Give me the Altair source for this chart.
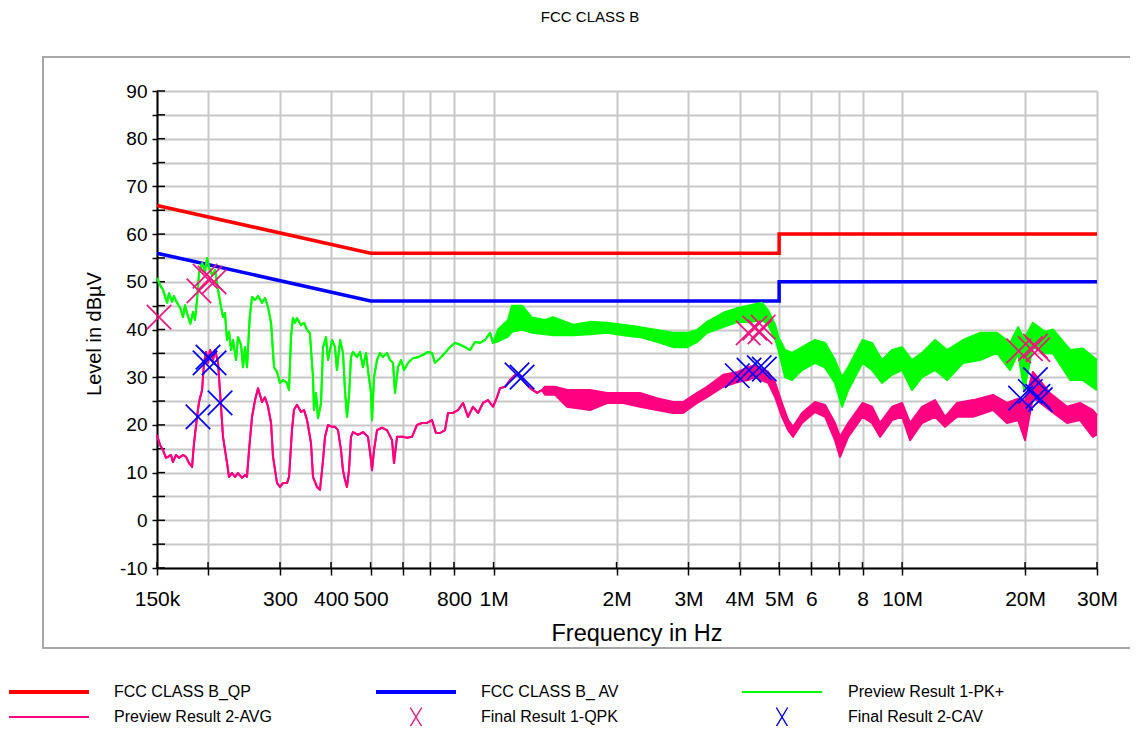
import altair as alt
import pandas as pd

# ---------------- text ----------------
CHART_TITLE = "FCC CLASS B"
X_TITLE = "Frequency in Hz"
Y_TITLE = "Level in dBµV"
SERIES = ["FCC CLASS B_QP", "FCC CLASS B_ AV", "Preview Result 1-PK+",
          "Preview Result 2-AVG", "Final Result 1-QPK", "Final Result 2-CAV"]
COLORS = ["#FF0000", "#0000FF", "#00FF00", "#FF0080", "#F0147F", "#0000FF"]

# ---------------- axes ----------------
GRID_FREQS = [0.15, 0.2, 0.3, 0.4, 0.5, 0.6, 0.7, 0.8, 1, 2, 3, 4, 5, 6, 7, 8, 10, 20, 30]
LABEL_FREQS = [0.15, 0.3, 0.4, 0.5, 0.8, 1, 2, 3, 4, 5, 6, 8, 10, 20, 30]
LABEL_TEXTS = ["150k", "300", "400", "500", "800", "1M", "2M", "3M", "4M", "5M", "6", "8", "10M", "20M", "30M"]
Y_TICKS = list(range(-10, 95, 5))

# ---------------- limit lines (MHz, dBµV) ----------------
QP_F = [0.15, 0.5, 5.0, 5.0, 30.0]
QP_V = [66, 56, 56, 60, 60]
AV_F = [0.15, 0.5, 5.0, 5.0, 30.0]
AV_V = [56, 46, 46, 50, 50]

# ---------------- Preview Result 1-PK+ ----------------
PK_F_LOW = [0.150, 0.1526, 0.1552, 0.1587, 0.1605, 0.1632, 0.1650, 0.1679, 0.171, 0.1737, 0.1757, 0.1776,
            0.181, 0.1838, 0.1858, 0.1880, 0.1901, 0.1934, 0.1967, 0.1989, 0.2012, 0.2046, 0.2081, 0.2116,
            0.2152, 0.2176, 0.2200, 0.2226, 0.2251, 0.2277, 0.2302, 0.2342, 0.2368, 0.2409, 0.2436, 0.2464,
            0.2491, 0.253, 0.2563, 0.2607, 0.2651, 0.2711, 0.2757, 0.2805, 0.2853, 0.2901, 0.2951, 0.300,
            0.3052, 0.3121, 0.3157, 0.3192, 0.3228, 0.3265, 0.3302, 0.3378, 0.3436, 0.3495, 0.355, 0.3614,
            0.3634, 0.3675, 0.3717, 0.3781, 0.3824, 0.3889, 0.3933, 0.4023, 0.4091, 0.4137, 0.421, 0.4279,
            0.4328, 0.4377, 0.4427, 0.4477, 0.4527, 0.4630, 0.471, 0.4789, 0.4872, 0.4927, 0.5011, 0.5040,
            0.5097, 0.5184, 0.527, 0.5361, 0.5484, 0.558, 0.5673, 0.5737, 0.5835, 0.5935, 0.6036, 0.6174,
            0.6350, 0.6531, 0.6718, 0.6910, 0.7068, 0.7188, 0.740, 0.7605, 0.7823, 0.8046, 0.828, 0.8513,
            0.876, 0.9006, 0.926, 0.9529, 0.9802, 0.9969]
PK_V_LOW = [50.8, 49.3, 48.3, 45.6, 47.6, 45.8, 47.0, 45.6, 44.5, 42.6, 45.1, 43.5,
            41.2, 43.7, 42.0, 46.2, 51.8, 53.9, 52.1, 55.0, 52.9, 51.4, 52.5, 48.3,
            44.7, 42.6, 43.5, 37.8, 39.5, 35.7, 37.8, 33.6, 38.4, 36.8, 32.1, 36.3,
            32.1, 42.6, 46.8, 46.2, 47.0, 45.6, 46.6, 44.7, 41.4, 32.1, 31.1, 28.8,
            29.4, 28.8, 27.3, 38.4, 42.4, 41.4, 42.4, 40.9, 41.4, 39.9, 39.3, 30.0,
            23.1, 26.7, 21.4, 24.6, 36.3, 38.4, 33.6, 37.8, 36.3, 31.5, 37.8, 35.1,
            27.3, 21.7, 26.0, 34.2, 35.3, 34.2, 35.3, 32.1, 35.1, 31.5, 26.7, 21.0,
            30.0, 33.6, 35.1, 34.2, 35.1, 33.6, 33.0, 26.7, 32.1, 33.6, 31.5, 33.0,
            34.0, 34.2, 34.7, 35.3, 35.1, 33.0, 34.0, 35.1, 36.3, 37.2, 36.8, 36.3,
            35.7, 37.4, 37.2, 37.8, 39.3, 37.2]
PK_F_BAND = [1.025, 1.085, 1.109, 1.174, 1.242, 1.336, 1.398, 1.565, 1.722, 1.896, 2.075, 2.283,
             2.51, 2.75, 2.98, 3.15, 3.33, 3.65, 3.96, 4.20, 4.54, 4.70, 4.89, 4.98,
             5.17, 5.38, 5.69, 6.12, 6.48, 6.85, 7.13, 7.38, 8.0, 8.44, 8.93, 9.45,
             10.0, 10.57, 11.19, 12.04, 12.89, 14.1, 15.51, 17.07, 18.38, 19.23, 19.9, 20.9,
             22.4, 23.4, 25.8, 27.7, 30.0]
PK_HI = [40.0, 42.0, 45.0, 45.0, 42.5, 42.0, 42.6, 41.0, 41.6, 41.4, 41.0, 40.5,
         39.9, 39.3, 39.3, 39.9, 41.6, 43.5, 44.5, 45.0, 45.6, 44.0, 41.0, 38.4,
         35.7, 35.1, 36.3, 37.8, 37.2, 33.6, 30.0, 32.1, 37.8, 37.2, 33.6, 35.7,
         36.3, 33.6, 35.1, 37.8, 35.7, 37.8, 39.3, 39.3, 37.2, 40.5, 38.0, 41.4,
         39.5, 40.0, 35.7, 36.0, 33.6]
PK_LO = [37.5, 38.5, 39.5, 40.0, 39.3, 39.0, 38.8, 38.8, 39.0, 39.3, 38.8, 38.4,
         37.4, 36.3, 36.3, 37.4, 39.3, 40.5, 41.6, 41.5, 42.0, 41.0, 38.0, 35.7,
         30.0, 29.4, 31.5, 33.0, 32.0, 28.8, 23.8, 27.3, 33.0, 31.5, 28.8, 30.5,
         31.5, 27.3, 30.0, 31.5, 29.4, 33.0, 33.6, 35.1, 31.5, 35.1, 27.3, 36.3,
         35.0, 35.0, 29.4, 29.4, 27.3]

# ---------------- Preview Result 2-AVG ----------------
AVG_F_LOW = [0.150, 0.1526, 0.1552, 0.1578, 0.1596, 0.1623, 0.1641, 0.1670, 0.1698, 0.1737, 0.1767, 0.1797,
             0.1828, 0.1848, 0.1880, 0.1901, 0.1934, 0.1955, 0.1978, 0.200, 0.2023, 0.2057, 0.2081, 0.2116,
             0.2152, 0.2176, 0.2226, 0.2251, 0.2290, 0.2329, 0.2368, 0.2423, 0.2464, 0.2491, 0.2520, 0.2563,
             0.2607, 0.2651, 0.2711, 0.2757, 0.2805, 0.2853, 0.2885, 0.2951, 0.300, 0.3052, 0.3121, 0.3157,
             0.3210, 0.3246, 0.3302, 0.3378, 0.3436, 0.3495, 0.3573, 0.3614, 0.3696, 0.376, 0.3824, 0.3867,
             0.3933, 0.4023, 0.4091, 0.4161, 0.4232, 0.4279, 0.4328, 0.4377, 0.4427, 0.4477, 0.4527, 0.4657,
             0.4789, 0.4927, 0.500, 0.5040, 0.5097, 0.5184, 0.5331, 0.5484, 0.5642, 0.5705, 0.5803, 0.600,
             0.6139, 0.6315, 0.6495, 0.6681, 0.6871, 0.7068, 0.7228, 0.740, 0.7605, 0.7735, 0.7956, 0.8185,
             0.8418, 0.8658, 0.8906, 0.9160, 0.9422, 0.9691, 0.9969, 1.0196, 1.0371, 1.0667, 1.097, 1.1283,
             1.161, 1.194, 1.228, 1.2774, 1.314]
AVG_V_LOW = [17.9, 15.8, 14.7, 13.1, 13.3, 13.7, 12.2, 13.7, 13.1, 13.7, 13.3, 12.0,
             11.2, 16.2, 21.7, 24.8, 27.3, 33.0, 35.3, 33.0, 35.7, 33.6, 35.7, 33.0,
             23.8, 17.5, 12.0, 9.1, 9.9, 9.1, 9.9, 8.9, 9.5, 9.1, 14.7, 21.7,
             25.2, 27.7, 24.8, 25.8, 23.8, 20.4, 13.3, 7.8, 7.0, 7.8, 7.8, 9.1,
             18.9, 23.1, 24.2, 22.7, 23.1, 21.0, 16.2, 9.1, 7.0, 6.4, 12.6, 17.5,
             20.0, 19.6, 19.6, 18.9, 14.7, 10.5, 8.5, 7.0, 10.5, 17.5, 18.5, 17.9,
             18.5, 17.5, 13.3, 10.5, 14.7, 18.9, 19.4, 18.9, 16.8, 12.0, 17.5, 17.5,
             17.3, 17.5, 20.0, 20.4, 20.4, 21.0, 18.3, 18.3, 18.9, 22.5, 22.5, 23.1,
             24.6, 21.7, 23.8, 22.5, 24.6, 25.2, 23.8, 25.8, 27.7, 28.0, 29.4, 30.5,
             30.5, 28.8, 27.7, 26.7, 27.3]
AVG_F_BAND = [1.336, 1.414, 1.513, 1.722, 1.896, 2.075, 2.283, 2.51, 2.75, 2.91, 3.15, 3.33,
              3.65, 3.96, 4.20, 4.36, 4.70, 4.89, 5.08, 5.26, 5.41, 5.69, 6.12, 6.48,
              6.85, 7.05, 7.38, 8.0, 8.44, 8.83, 9.45, 10.0, 10.46, 11.19, 12.04, 12.74,
              13.63, 14.92, 16.7, 18.06, 19.23, 20.0, 20.9, 23.0, 25.35, 27.26, 29.3, 30.0]
AVG_HI = [28.0, 28.0, 27.3, 27.3, 26.7, 26.7, 26.7, 25.6, 24.8, 24.8, 26.7, 28.0,
          30.5, 31.1, 32.1, 32.5, 31.1, 28.8, 24.6, 21.0, 19.6, 22.5, 24.8, 24.2,
          20.4, 17.5, 20.4, 24.6, 23.8, 20.4, 23.8, 24.6, 20.4, 23.8, 25.2, 21.7,
          24.6, 25.2, 26.3, 24.6, 25.5, 25.0, 31.1, 26.7, 23.8, 24.6, 23.1, 22.0]
AVG_LO = [26.3, 26.3, 23.8, 23.1, 24.6, 24.6, 23.8, 23.1, 22.5, 22.5, 24.6, 25.8,
          28.0, 29.0, 29.4, 30.0, 28.8, 25.8, 21.7, 18.9, 17.5, 20.4, 22.7, 21.7,
          16.8, 13.3, 17.5, 21.7, 20.4, 17.5, 21.0, 21.7, 16.8, 20.4, 21.7, 19.6,
          21.7, 21.7, 23.1, 20.4, 21.0, 16.8, 25.8, 23.1, 20.4, 21.0, 17.5, 18.0]

# ---------------- Final results ----------------
QPK_F = [0.1517, 0.190, 0.1967, 0.2023, 0.2069, 4.20, 4.36, 4.49, 4.57, 19.3, 20.6, 21.2, 21.5]
QPK_V = [42.6, 48.1, 51.2, 50.8, 50.0, 39.3, 40.3, 39.5, 40.5, 35.5, 36.0, 36.5, 35.8]
CAV_F = [0.1890, 0.1967, 0.2000, 0.2069, 0.2140, 1.141, 1.174, 3.95, 4.22, 4.47, 4.60,
         19.5, 20.6, 21.2, 21.5, 21.8]
CAV_V = [21.7, 33.0, 34.2, 33.0, 24.6, 30.5, 30.0, 30.3, 31.5, 32.0, 31.7,
         25.6, 27.0, 29.5, 26.0, 25.3]

# ---------------- build ----------------
FONT = "Liberation Sans"
W, H = 940, 477
XMARK = "M-1,-1L1,1M-1,1L1,-1"
XMARK_LEG = "M-0.6,-1L0.6,1M-0.6,1L0.6,-1"

label_expr = " : ".join(f"datum.value == {f} ? '{t}'" for f, t in zip(LABEL_FREQS, LABEL_TEXTS)) + " : ''"

x_scale = alt.Scale(type="log", domain=[0.15, 30], nice=False)
y_scale = alt.Scale(domain=[-10, 90], nice=False, zero=False)

x_axis = alt.Axis(values=GRID_FREQS, labelExpr=label_expr, title=None, grid=True,
                  gridColor="#C8C8C8", gridWidth=2, domainColor="black", domainWidth=2,
                  ticks=True, tickColor="black", tickSize=7, tickWidth=1.5,
                  labelFont=FONT, labelFontSize=21, labelColor="black", labelPadding=13,
                  labelOverlap=False, labelFlush=False, labelBound=False)
y_axis = alt.Axis(values=Y_TICKS, labelExpr="datum.value % 10 == 0 ? '' + datum.value : ''",
                  title=None, grid=True, gridColor="#C8C8C8", gridWidth=2,
                  domainColor="black", domainWidth=2, ticks=True, tickColor="black",
                  tickSize=5, tickWidth=1.5, labelFont=FONT, labelFontSize=19,
                  labelColor="black", labelPadding=5, labelOverlap=False,
                  labelFlush=False, labelBound=False)

X = alt.X("f:Q", scale=x_scale, axis=x_axis)
Y = alt.Y("v:Q", scale=y_scale, axis=y_axis)


def line_df(fs, vs):
    return pd.DataFrame({"f": fs, "v": vs, "i": range(len(fs))})


def band_df(f_low, v_low, f_band, hi, lo):
    return pd.DataFrame({"f": list(f_low) + list(f_band),
                         "v": list(v_low) + list(hi),
                         "v2": list(v_low) + list(lo)})


layers = []

# inner half of ticks (axis ticks give the outer half)
layers.append(alt.Chart(pd.DataFrame({"v": Y_TICKS})).mark_rule(color="black", strokeWidth=1.5)
              .encode(y=Y, x=alt.value(0), x2=alt.value(8)))
layers.append(alt.Chart(pd.DataFrame({"f": GRID_FREQS})).mark_rule(color="black", strokeWidth=1.5)
              .encode(x=X, y=alt.value(H - 6), y2=alt.value(H)))

# limit lines
for fs, vs, col in [(QP_F, QP_V, COLORS[0]), (AV_F, AV_V, COLORS[1])]:
    layers.append(alt.Chart(line_df(fs, vs)).mark_line(color=col, strokeWidth=3.5, strokeJoin="miter")
                  .encode(x=X, y=Y, order="i:Q"))

# preview traces: narrow line at low frequency, noisy band (upper/lower envelope) above
for df, col in [(band_df(PK_F_LOW, PK_V_LOW, PK_F_BAND, PK_HI, PK_LO), COLORS[2]),
                (band_df(AVG_F_LOW, AVG_V_LOW, AVG_F_BAND, AVG_HI, AVG_LO), COLORS[3])]:
    base = alt.Chart(df)
    layers.append(base.mark_area(color=col, opacity=1).encode(x=X, y=Y, y2="v2:Q"))
    layers.append(base.mark_line(color=col, strokeWidth=2, strokeJoin="round").encode(x=X, y=Y))
    layers.append(base.mark_line(color=col, strokeWidth=2, strokeJoin="round")
                  .encode(x=X, y=alt.Y("v2:Q", scale=y_scale, axis=y_axis)))

# final result markers
for fs, vs, col in [(QPK_F, QPK_V, COLORS[4]), (CAV_F, CAV_V, COLORS[5])]:
    layers.append(alt.Chart(line_df(fs, vs)).mark_point(shape=XMARK, size=600, filled=False,
                                                        color=col, strokeWidth=1.7, opacity=1)
                  .encode(x=X, y=Y))

one = pd.DataFrame({"k": [0]})

# outer frame
layers.append(alt.Chart(one).mark_rect(fillOpacity=0, stroke="#A8A8A8", strokeWidth=2)
              .encode(x=alt.value(-114), x2=alt.value(980), y=alt.value(-34), y2=alt.value(557)))

# titles
layers.append(alt.Chart(one).mark_text(font=FONT, fontSize=15, color="black", align="center", baseline="middle")
              .encode(x=alt.value(433), y=alt.value(-74), text=alt.value(CHART_TITLE)))
layers.append(alt.Chart(one).mark_text(font=FONT, fontSize=23.5, color="black", align="center", baseline="middle")
              .encode(x=alt.value(480), y=alt.value(543), text=alt.value(X_TITLE)))
layers.append(alt.Chart(one).mark_text(font=FONT, fontSize=20, color="black", align="center",
                                       baseline="middle", angle=270)
              .encode(x=alt.value(-62), y=alt.value(243), text=alt.value(Y_TITLE)))

# legend (3 columns x 2 rows)
COL_LINE_X = [-148, 219, 585]
COL_TEXT_X = [-43, 324, 691]
ROW_Y = [601, 626]
LEG_W = [4, 4, 2, 2, 0, 0]
for k, name in enumerate(SERIES):
    r, c = k // 3, k % 3
    y0 = ROW_Y[r]
    if LEG_W[k] > 0:
        layers.append(alt.Chart(one).mark_rule(color=COLORS[k], strokeWidth=LEG_W[k])
                      .encode(x=alt.value(COL_LINE_X[c]), x2=alt.value(COL_LINE_X[c] + 80), y=alt.value(y0)))
    else:
        layers.append(alt.Chart(one).mark_point(shape=XMARK_LEG, size=360, filled=False,
                                                color=COLORS[k], strokeWidth=1.4, opacity=1)
                      .encode(x=alt.value(COL_LINE_X[c] + 40), y=alt.value(y0)))
    layers.append(alt.Chart(one).mark_text(font=FONT, fontSize=16, color="black", align="left", baseline="middle")
                  .encode(x=alt.value(COL_TEXT_X[c]), y=alt.value(y0), text=alt.value(name)))

chart = alt.layer(*layers).properties(
    width=W, height=H,
    autosize=alt.AutoSizeParams(type="none"),
    padding={"left": 149, "top": 83, "right": 33, "bottom": 158},
    background="white",
).configure_view(stroke=None)

chart.save("out.html", embed_options={"renderer": "svg", "actions": False})
